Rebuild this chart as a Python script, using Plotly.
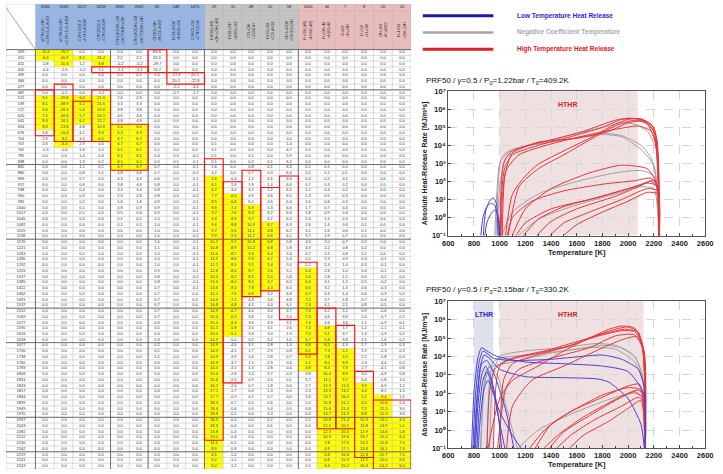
import plotly.graph_objects as go

W, H = 723, 474
FONT = "Liberation Sans, Arial, sans-serif"

# ---------------------------------------------------------------- table data
ROW_LABELS = [409, 410, 411, 420, 439, 466, 477, 487, 521, 539, 572, 620, 641, 656, 676, 701, 707, 761, 785, 838,
              862, 880, 899, 917, 938, 960, 981, 1000, 1017, 1040, 1082, 1119, 1138, 1176, 1221, 1263, 1280, 1292,
              1316, 1337, 1385, 1422, 1462, 1491, 1537, 1552, 1569, 1577, 1590, 1616, 1658, 1677, 1700, 1738, 1760,
              1783, 1808, 1831, 1843, 1857, 1884, 1899, 1949, 1970, 1997, 2043, 2082, 2122, 2130, 2162, 2219, 2241, 2243]
COL_IDS = ["3166", "3169", "3217", "3218", "3961", "3962", "45", "548", "1071",
           "29", "31", "48", "52", "58", "1005", "46", "7", "8", "20", "10"]
COL_GROUP = [0] * 9 + [1] * 5 + [2] * 6
COL_DESC = ["nC7H16+OH<br>=C7H15-2+H2O", "nC7H16+OH<br>=C7H15-3+H2O", "C7H15O2-2<br>=C7H14OOH", "C7H15O2-3<br>=C7H14OOH",
            "C7H14OOH+O2<br>=OC7OOH+OH", "C7H14OOH+O2<br>=OC7OOH+OH", "CH2O+OH<br>=HCO+H2O", "HO2+HO2<br>=H2O2+O2",
            "C7H15+O2<br>=C7H15O2", "H2O2(+M)<br>=OH+OH(+M)", "HO2+OH<br>=H2O+O2", "CO+OH<br>=CO2+H",
            "HCO+O2<br>=CO+HO2", "CH3+HO2<br>=CH3O+OH", "H+O2(+M)<br>=HO2(+M)", "H+OH+M<br>=H2O+M",
            "O+H2<br>=H+OH", "H+O2<br>=O+OH", "OH+H2<br>=H+H2O", "H+HO2<br>=OH+OH"]

V3166 = [-11.6, -6.3, -1.8, -0.4, 0.0, 0.0, 0.0, 0.0, 8.1, 8.1, 6.6, 7.1, 8.4, 8.6, 4.6, 2.9, 2.6, -0.3] + [0.0] * 55
V3169 = [-76.7, -40.9, -11.6, -2.5, 0.0, 0.0, 0.0, -0.1, -29.6, -38.9, -26.3, -16.6, -16.1, -13.8, -10.4, -8.2,
         -6.3, -0.6] + [0.0] * 55
V3217 = [0.0, 6.1, 1.2, -0.2, 0.0, 0.0, 0.0, 0.0, 6.6, 6.2, 5.6, 5.7, 6.2, 4.8, 4.1, 3.2, 2.9, 1.6, 1.4, 1.3, 1.1,
         0.8, 0.7, 0.6, 0.4, 0.3, 0.2, 0.1, 0.1] + [0.0] * 44
V3218 = [0.0, 31.2, 8.8, 1.1, 0.0, 0.0, 0.0, -0.1, 21.6, 21.6, 19.6, 14.1, 12.2, 10.6, 8.3, 6.2, 4.6, 1.0, 0.4, 0.2,
         0.1, 0.1] + [0.0] * 51
V3961 = [0.0, 2.2, -0.2, -1.1, 0.0, 0.0, 0.0, 0.0, 2.6, 3.3, 3.8, 4.6, 4.8, 6.0, 6.3, 6.7, 6.7, 6.1, 6.1, 6.1, 6.7,
         4.8, 4.3, 3.8, 3.3, 2.3, 1.6, 0.8, 0.5, 0.2, 0.1] + [0.0] * 42
V3962 = [0.0, 2.2, -0.2, -1.1, 0.0, 0.0, 0.0, 0.0, 2.6, 3.3, 3.8, 4.6, 4.8, 6.0, 6.3, 6.7, 6.7, 6.1, 6.1, 6.1, 6.7,
         4.8, 4.4, 4.0, 3.4, 2.6, 1.6, 0.9, 0.6, 0.2, 0.1] + [0.0] * 42
V45 = [83.6, 32.6, -49.7, 74.7] + [0.0] * 13 + [0.1, 0.4, 0.5, 0.7, 0.7, 0.6, 0.8, 0.8, 0.8, 0.9, 0.9, 0.9, 1.0, 1.0,
                                              1.0, 1.0, 1.0, 1.1, 1.0, 1.0, 1.0, 0.9, 0.8, 0.8, 0.7, 0.7, 0.7, 0.7,
                                              0.7, 0.7, 0.6, 0.5, 0.4, 0.3, 0.2, 0.1, 0.1] + [0.0] * 19
V548 = [0.0, 0.0, 0.0, 0.0, -27.4, 20.2, -2.2, 0.7] + [0.0] * 11 + [0.1] + [0.0] * 53
V1071 = [0.0, 0.0, 0.0, 0.0, 20.1, -22.8, -4.4, -1.7] + [0.0] * 10 + [-0.1] * 24 + [0.0] * 31
V29 = [0.0] * 16 + [0.1, 0.1] + [0.1, 0.1, 1.6, 4.2, 5.6, 6.1, 6.7, 7.7, 8.5, 8.6, 9.2, 9.4, 9.6, 9.7, 9.9, 10.2,
                                 10.8, 11.6, 11.9, 12.1, 12.8, 13.0, 13.4, 13.6] + \
      [14.1, 14.6, 14.8, 14.9, 15.0, 15.0, 15.1, 15.0, 14.9, 14.9, 14.9, 14.9, 14.9, 15.0, 15.4, 15.6, 16.2, 17.1,
       17.7, 18.0, 18.4, 18.8, 18.9, 18.3, 13.8, 13.0, 11.1, 8.9, 6.1, 6.2, 6.2]
V31 = [0.0] * 22 + [-0.4, -1.6, -3.4] + [-6.3, -6.6, -7.4, -7.6, -8.3, -8.8, -9.0, -9.1, -9.1, -8.9, -8.7, -8.6,
                                        -8.5, -8.4, -8.2, -8.0, -8.0] + \
      [-7.6, -7.2, -6.8, -6.7, -6.3, -6.3, -5.8, -5.1, -5.0, -4.6, -4.1, -3.9, -3.7, -3.1, -2.6, -2.4, -2.0, -1.7,
       -0.9, -0.7, -0.6, -0.5, -0.4, -0.4, -0.4, -0.4, -0.5, -0.8, -1.0, -1.2, -1.2]
V48 = [0.0] * 18 + [0.1, 0.2] + [0.8, 0.7, 1.2, 1.9, 3.1, 4.9, 6.2, 6.9, 8.3, 9.7, 10.9, 11.2, 11.2, 10.8, 10.2, 9.6,
                                 9.3, 9.1, 8.7, 8.5, 8.2, 7.8] + \
      [6.9, 4.8, 4.1, 4.0, 3.6, 3.6, 3.5, 3.4, 3.2, 3.1, 1.7, 1.6, 1.5, 1.3, 1.2, 0.9, 0.7, 0.4, 0.1, 0.1] + [0.0] * 11
V52 = [0.0] * 19 + [0.1, 0.1, 0.3, 0.6] + [1.4, 2.2, 3.6, 4.6, 5.3, 6.2, 6.2, 6.7, 6.8, 6.6, 6.8, 6.8, 6.4, 6.7, 5.4,
                                           5.6, 5.0, 4.7, 4.4] + \
      [4.2, 3.6, 4.0, 3.4, 3.2, 3.3, 3.1, 3.0, 3.2, 2.8, 2.9, 2.8, 2.9, 2.8, 2.7, 2.4, 1.8, 1.3, 0.7, 0.6, 0.4, 0.3,
       0.2, 0.1] + [0.0] * 7
V58 = [0.0] * 16 + [1.4, 4.7, 5.9, 6.1, 6.3, 6.4, 6.6, 6.6, 6.5, 6.5, 6.4, 6.6, 6.6, 6.2, 6.3, 6.2, 6.1, 5.8, 5.8,
                    5.6, 5.3, 5.0, 5.1, 5.8, 6.2, 6.5] + \
      [6.8, 6.8, 6.1, 3.7, 3.4, 3.1, 2.6, 1.9, 1.6, 1.4, 0.8, 0.7, 0.6, 0.4, 0.3, 0.1] + [0.0] * 15
V1005 = [0.0] * 20 + [0.1, 0.2] + [0.4, 0.7, 1.1, 1.3, 1.6, 1.7, 1.8, 2.4, 2.6, 3.1, 3.7, 4.0, 4.3, 4.7, 5.0, 5.2,
                                   5.4, 5.6, 6.4, 6.6] + \
        [6.7, 7.2, 7.4, 7.4, 7.4, 7.4, 7.4, 7.2, 6.7, 6.8, 6.1, 5.4, 5.1, 4.8, 3.8, 3.7, 2.7, 2.3, 1.6, 1.0, 0.8,
         0.4, 0.1] + [0.0] * 7 + [0.1]
V46 = [0.0] * 20 + [0.1, 0.1] + [0.2, 0.3, 0.4, 0.5, 0.6, 0.7, 0.9, 1.1, 1.4, 1.6, 1.9, 2.0, 2.2, 2.2, 2.3, 2.4, 2.6,
                                 2.8, 3.1, 3.2] + \
      [3.3, 3.7, 4.1, 4.2, 4.6, 4.6, 4.8, 5.1, 5.8, 6.5, 7.3, 7.8, 8.0, 8.4, 10.0, 11.1, 12.3, 13.3, 13.7, 15.8,
       15.6, 14.7, 13.8, 12.9, 12.3, 10.9, 7.8, 4.9, 6.8, 6.6, 6.4]
V7 = [0.0] * 21 + [0.1] + [0.1, 0.2, 0.2, 0.3, 0.3, 0.4, 0.4, 0.5, 0.6, 0.6, 0.7, 0.7, 0.8, 0.8, 0.9, 1.0, 1.0, 1.1,
                           1.2, 1.3] + \
     [1.4, 1.8, 2.1, 3.2, 3.6, 3.6, 3.7, 3.7, 3.8, 4.3, 5.1, 5.5, 6.9, 7.9, 8.9, 9.7, 11.6, 13.2, 16.0, 21.2, 21.6,
      21.9, 21.4, 20.5, 20.4, 19.6, 17.6, 17.1, 16.6, 15.9, 15.2]
V8 = [0.0] * 30 + [0.1, 0.1, 0.1, 0.2, 0.2, 0.2, 0.3, 0.3, 0.4, 0.4, 0.5] + \
     [0.6, 0.6, 0.7, 0.8, 0.9, 1.0, 1.1, 1.2, 1.3, 1.5, 1.7, 1.9, 2.1, 2.4, 2.7, 3.0, 3.4, 3.9, 4.4, 5.1, 6.0, 7.2,
      8.8, 10.3, 11.8, 12.9, 13.7, 14.2, 13.6, 12.8, 11.9, 10.4]
V20 = [0.0] * 36 + [-0.1, -0.1, -0.1, -0.2, -0.2, -0.3, -0.3, -0.4, -0.5] + \
      [-0.6, -0.7, -0.9, -1.1, -1.3, -1.6, -1.9, -2.3, -2.8, -3.4, -4.1, -4.9, -5.8, -6.9, -8.1, -9.4, -10.6, -11.5,
       -12.3, -13.1, -13.9, -14.6, -15.2, -15.8, -16.1, -15.7, -15.0, -14.2]
V10 = [0.0] * 46 + [0.1, 0.1, 0.1, 0.2] + \
      [0.2, 0.3, 0.3, 0.4, 0.5, 0.6, 0.8, 1.0, 1.2, 1.5, 1.9, 2.4, 3.0, 3.6, 4.3, 5.1, 5.8, 6.4, 7.0, 7.3, 7.1, 6.6,
       6.0]

COLUMNS = [V3166, V3169, V3217, V3218, V3961, V3962, V45, V548, V1071, V29, V31, V48, V52, V58, V1005, V46, V7, V8,
           V20, V10]

# highlighted cells (column, first row, last row)
YELLOW = [(0, 0, 1), (1, 0, 2), (2, 1, 1), (3, 1, 2), (0, 8, 13), (1, 8, 16), (2, 8, 12), (3, 8, 15),
          (4, 13, 20), (5, 13, 20), (9, 22, 72), (10, 25, 49), (11, 27, 42), (12, 30, 41), (14, 38, 55),
          (15, 48, 72), (16, 52, 72), (17, 58, 72), (18, 60, 72), (19, 64, 72)]
# red frames (first column, last column, first row, last row)
BOXES = [(6, 6, 0, 3), (3, 5, 3, 3), (7, 8, 4, 5), (0, 0, 7, 14), (1, 1, 6, 15), (2, 2, 9, 15), (3, 3, 7, 15),
         (4, 5, 13, 20), (9, 9, 19, 67), (10, 10, 23, 57), (11, 11, 21, 42), (12, 12, 24, 41), (13, 13, 22, 46),
         (14, 14, 37, 52), (15, 15, 45, 65), (16, 16, 48, 65), (17, 17, 56, 70), (18, 19, 61, 72)]
DARK_ROWS = [6.5, 19.5, 32.5, 44.5, 50.5, 63.5, 69.5]
DARK_COLS = [0, 4, 6, 9, 14]

# ---------------------------------------------------------------- chart data
T_TICKS = [600, 800, 1000, 1200, 1400, 1600, 1800, 2000, 2200, 2400, 2600]
Y_EXP = [-1, 0, 1, 2, 3, 4, 5, 6, 7]
Y_TICK_TEXT = ["10⁻¹", "10⁰", "10¹", "10²", "10³", "10⁴", "10⁵", "10⁶", "10⁷"]

C1_HTHR = [
    ([1000, 1010, 1030, 1080, 1200, 1400, 1650, 1900, 2000, 2100, 2180, 2225, 2238, 2242],
     [0.05, 30, 1e3, 4e3, 9e3, 2e4, 6e4, 2.5e5, 3.2e5, 2.8e5, 1.5e5, 2e4, 100, 0.05]),
    ([1005, 1015, 1040, 1100, 1300, 1550, 1800, 1950, 2050, 2150, 2210, 2235, 2240],
     [0.05, 20, 600, 3e3, 1e4, 3e4, 1e5, 2.8e5, 3e5, 1.8e5, 4e4, 200, 0.05]),
    ([1010, 1020, 1050, 1150, 1400, 1700, 1950, 2080, 2180, 2230, 2240],
     [0.05, 10, 400, 3e3, 1.2e4, 4e4, 9e4, 1.2e5, 6e4, 3e3, 0.05]),
    ([1040, 1100, 1200, 1300, 1500, 1700, 1900, 2000, 2100, 2200, 2235, 2242],
     [0.05, 20, 200, 900, 5e3, 2.5e4, 1.5e5, 2.8e5, 3e5, 1e5, 2e3, 0.05]),
    ([1060, 1150, 1300, 1500, 1700, 1900, 2050, 2150, 2220, 2240],
     [0.05, 50, 500, 3e3, 2e4, 1.2e5, 2.5e5, 1.5e5, 1e4, 0.05]),
    ([1020, 1040, 1100, 1300, 1600, 1850, 2000, 2120, 2200, 2238],
     [0.05, 200, 4e3, 1.5e4, 2.5e4, 6e4, 1.8e5, 2.2e5, 6e4, 0.05]),
    ([1100, 1200, 1400, 1700, 2000, 2150, 2220, 2242], [0.05, 0.5, 3, 10, 40, 80, 60, 0.05]),
    ([1150, 1300, 1500, 1800, 2050, 2180, 2230, 2242], [0.05, 0.8, 4, 15, 50, 100, 40, 0.05]),
    ([1250, 1400, 1600, 1900, 2100, 2200, 2235, 2242], [0.05, 0.6, 3, 15, 60, 120, 30, 0.05]),
    ([1350, 1500, 1700, 1950, 2150, 2230, 2242], [0.05, 0.5, 2, 10, 40, 30, 0.05]),
    ([1050, 1100, 1250, 1500, 1800, 2050, 2180, 2235, 2242], [0.05, 1, 8, 30, 70, 110, 150, 40, 0.05]),
    ([1450, 1600, 1800, 2000, 2150, 2230, 2242], [0.05, 0.4, 2, 8, 25, 20, 0.05]),
    ([1080, 1200, 1400, 1700, 1950, 2150, 2220, 2240], [0.05, 3, 40, 300, 800, 500, 80, 0.05]),
]
C1_NTC = [
    ([960, 975, 1000, 1050, 1200, 1500, 1750, 1850, 1950, 2100, 2180, 2225, 2240],
     [0.05, 10, 1e3, 4e3, 9e3, 2e4, 4e4, 4.5e4, 3.5e4, 1e4, 2e3, 50, 0.05]),
    ([970, 985, 1010, 1100, 1300, 1600, 1800, 1950, 2100, 2200, 2235, 2242],
     [0.05, 20, 1.5e3, 6e3, 1.2e4, 2.5e4, 4e4, 3e4, 6e3, 800, 10, 0.05]),
    ([980, 1000, 1050, 1200, 1500, 1800, 1950, 2050, 2150, 2220, 2240],
     [0.05, 50, 2e3, 8e3, 3e4, 1e5, 1.8e5, 1.5e5, 6e4, 5e3, 0.05]),
    ([1100, 1300, 1600, 1900, 2100, 2200, 2240], [0.05, 0.8, 5, 20, 50, 40, 0.05]),
    ([1000, 1100, 1300, 1600, 1900, 2100, 2200, 2240], [0.05, 2, 20, 100, 300, 400, 200, 0.05]),
]
C1_LTHR = [
    ([850, 870, 900, 930, 960, 985, 1000], [0.05, 1, 4, 6, 5, 1, 0.05]),
    ([870, 890, 920, 950, 975, 990], [0.05, 2, 8, 12, 6, 0.05]),
    ([880, 900, 930, 960, 980, 995, 1005], [0.05, 0.5, 1.5, 2.5, 2, 0.6, 0.05]),
]

C2_HTHR = [
    ([900, 920, 960, 1050, 1300, 1600, 1850, 1950, 2050, 2110, 2128, 2134],
     [0.05, 100, 2e3, 6e3, 1.5e4, 5e4, 3e5, 4.5e5, 3.5e5, 5e4, 500, 0.05]),
    ([950, 970, 1000, 1100, 1350, 1650, 1900, 2000, 2080, 2120, 2133],
     [0.05, 200, 3e3, 8e3, 2e4, 8e4, 3e5, 4e5, 2e5, 1e4, 0.05]),
    ([1000, 1030, 1100, 1250, 1500, 1750, 1950, 2050, 2110, 2133],
     [0.05, 500, 4e3, 1e4, 3e4, 1.2e5, 2.5e5, 2.2e5, 5e4, 0.05]),
    ([900, 1000, 1100, 1300, 1500, 1700, 1850, 1980, 2080, 2125, 2134],
     [0.05, 50, 500, 3e3, 2e4, 1e5, 2e5, 3e5, 2e5, 5e3, 0.05]),
    ([980, 1050, 1150, 1400, 1700, 1900, 2050, 2120, 2134], [0.05, 200, 2e3, 8e3, 3e4, 1.3e5, 1.5e5, 2e4, 0.05]),
    ([1050, 1100, 1250, 1500, 1750, 1950, 2070, 2125, 2134], [0.05, 20, 500, 3e3, 2e4, 8e4, 1.2e5, 2e4, 0.05]),
    ([1300, 1450, 1650, 1850, 2000, 2080, 2120, 2134], [0.05, 0.5, 5, 30, 100, 150, 80, 0.05]),
    ([1350, 1500, 1700, 1900, 2050, 2110, 2134], [0.05, 0.8, 6, 40, 120, 60, 0.05]),
    ([1400, 1550, 1750, 1950, 2080, 2125, 2134], [0.05, 0.5, 4, 20, 60, 30, 0.05]),
    ([1250, 1400, 1600, 1800, 2000, 2100, 2130], [0.05, 2, 15, 80, 200, 150, 0.05]),
    ([1500, 1650, 1850, 2000, 2100, 2130], [0.05, 0.5, 3, 15, 40, 0.05]),
    ([1200, 1350, 1550, 1800, 2000, 2090, 2130], [0.05, 1, 10, 60, 250, 300, 0.05]),
]
C2_NTC = [
    ([900, 920, 950, 1000, 1200, 1500, 1800, 1950, 2050, 2120, 2134],
     [0.05, 300, 5e3, 8e3, 1.2e4, 2e4, 4e4, 3e4, 1e4, 500, 0.05]),
    ([920, 950, 1000, 1200, 1500, 1750, 1900, 2050, 2110, 2134], [0.05, 1e3, 1e4, 2e4, 3e4, 5e4, 4e4, 1e4, 1e3, 0.05]),
    ([850, 870, 900, 950, 1100, 1400, 1700, 1900, 2050, 2120, 2134],
     [0.05, 50, 2e3, 3e3, 5e3, 1.5e4, 3e4, 2.5e4, 5e3, 300, 0.05]),
    ([1100, 1300, 1600, 1900, 2050, 2120, 2134], [0.05, 1, 10, 60, 100, 50, 0.05]),
    ([850, 880, 920, 980, 1050, 1150], [0.05, 200, 3e3, 1e3, 20, 0.05]),
]
C2_LTHR = [
    ([790, 810, 840, 870, 900, 950, 1100, 1400, 1700, 1800, 1950, 2080, 2125, 2132],
     [0.05, 50, 5e3, 2e4, 1.5e4, 8e3, 6e3, 7e3, 1.1e4, 1.2e4, 7e3, 2e3, 200, 0.05]),
    ([800, 820, 850, 880, 920, 1000, 1200, 1500, 1760, 1850, 2000, 2100, 2130],
     [0.05, 30, 3e3, 1.2e4, 8e3, 2e3, 800, 700, 600, 400, 50, 2, 0.05]),
    ([810, 830, 860, 890, 930, 980, 1020], [0.05, 20, 1e3, 3e3, 800, 20, 0.05]),
    ([820, 840, 870, 900, 940, 990, 1050], [0.05, 10, 500, 1.5e3, 300, 5, 0.05]),
    ([800, 830, 860, 900, 960, 1050, 1120], [0.05, 100, 4e3, 6e3, 1e3, 10, 0.05]),
    ([830, 850, 880, 910, 950, 1000, 1100, 1200], [0.05, 5, 200, 500, 100, 10, 0.5, 0.05]),
    ([780, 800, 830, 860, 900, 980, 1200, 1500, 1800, 2000, 2120, 2132],
     [0.05, 100, 8e3, 3e4, 2e4, 1e4, 5e3, 4e3, 3e3, 1.5e3, 100, 0.05]),
]

C1_REGION = {"HTHR": (1000, 2075)}
C2_REGION = {"LTHR": (800, 950), "HTHR": (1000, 2120)}
TITLE1 = "PRF50 / <i>γ</i>=0.5 / P<sub>0</sub>=1.22bar / T<sub>0</sub>=409.2K"
TITLE2 = "PRF50 / <i>γ</i>=0.5 / P<sub>0</sub>=2.15bar / T<sub>0</sub>=330.2K"
LEGEND = [("Low Temperature Heat Release", "#1c1ca8", "#2a2ad0"),
          ("Negative Coefficient Temperature", "#a6a6a6", "#aaaaaa"),
          ("High Temperature Heat Release", "#e02025", "#e02025")]

RED, GRAY, BLUE = "#e8353b", "#a0a0a0", "#4d40d8"


def px(x):
    return x / W


def py(y):
    return 1 - y / H


fig = go.Figure()

# ---------------------------------------------------------------- table
NR, NC = len(ROW_LABELS), len(COL_IDS)
LABEL_LEFT = -1.567
HEAD_TOP = -8.44
ID_BOTTOM = -7.24

z_body, t_body = [], []
for r in range(NR):
    zr, tr = [0], [str(ROW_LABELS[r])]
    for c in range(NC):
        zr.append(0)
        v = COLUMNS[c][r]
        tr.append(f"{v:.1f}")
    z_body.append(zr)
    t_body.append(tr)
for c, r0, r1 in YELLOW:
    for r in range(r0, r1 + 1):
        z_body[r][c + 1] = 1

xedges = [LABEL_LEFT] + list(range(NC + 1))
yedges = [r - 0.5 for r in range(NR + 1)]
fig.add_trace(go.Heatmap(z=z_body, x=xedges, y=yedges, text=t_body, texttemplate="%{text}",
                         textfont=dict(size=4, color="#333333", family=FONT),
                         colorscale=[[0, "#ffffff"], [1, "#ffff00"]], zmin=0, zmax=1, showscale=False,
                         hoverinfo="skip", xaxis="x3", yaxis="y3"))
HEAD_SCALE = [[0, "#97b5e4"], [0.5, "#c3c3c3"], [1, "#e8bcbc"]]
fig.add_trace(go.Heatmap(z=[COL_GROUP], x=list(range(NC + 1)), y=[HEAD_TOP, ID_BOTTOM],
                         text=[COL_IDS], texttemplate="%{text}",
                         textfont=dict(size=4, color="#222222", family=FONT),
                         colorscale=HEAD_SCALE, zmin=0, zmax=2,
                         showscale=False, hoverinfo="skip", xaxis="x3", yaxis="y3"))
fig.add_trace(go.Heatmap(z=[COL_GROUP], x=list(range(NC + 1)), y=[ID_BOTTOM, -0.5],
                         colorscale=HEAD_SCALE, zmin=0, zmax=2,
                         showscale=False, hoverinfo="skip", xaxis="x3", yaxis="y3"))

gx, gy = [], []
for r in range(NR + 1):
    gx += [LABEL_LEFT, NC, None]
    gy += [r - 0.5, r - 0.5, None]
for yy in (HEAD_TOP, ID_BOTTOM):
    gx += [0, NC, None]
    gy += [yy, yy, None]
for c in range(NC + 1):
    gx += [c, c, None]
    gy += [HEAD_TOP, NR - 0.5, None]
gx += [LABEL_LEFT, LABEL_LEFT, None, LABEL_LEFT, 0, None]
gy += [HEAD_TOP, NR - 0.5, None, HEAD_TOP, HEAD_TOP, None]
fig.add_trace(go.Scatter(x=gx, y=gy, mode="lines", line=dict(color="#b4b4b4", width=0.5), hoverinfo="skip",
                         showlegend=False, xaxis="x3", yaxis="y3"))
dx, dy = [], []
for yy in DARK_ROWS:
    dx += [LABEL_LEFT, NC, None]
    dy += [yy, yy, None]
for xx in DARK_COLS:
    dx += [xx, xx, None]
    dy += [-0.5, NR - 0.5, None]
dx += [LABEL_LEFT, NC, None]
dy += [-0.5, -0.5, None]
fig.add_trace(go.Scatter(x=dx, y=dy, mode="lines", line=dict(color="#555555", width=0.8), hoverinfo="skip",
                         showlegend=False, xaxis="x3", yaxis="y3"))

shapes = []
for c0, c1, r0, r1 in BOXES:
    shapes.append(dict(type="rect", xref="x3", yref="y3", x0=c0, x1=c1 + 1, y0=r0 - 0.5, y1=r1 + 0.5,
                       line=dict(color="#ff1010", width=1.1), layer="above"))
shapes.append(dict(type="line", xref="x3", yref="y3", x0=LABEL_LEFT, y0=ID_BOTTOM - 0.6, x1=0, y1=-0.5,
                   line=dict(color="#666666", width=0.6)))

annotations = []
for c in range(NC):
    annotations.append(dict(xref="x3", yref="y3", x=c + 0.5, y=(ID_BOTTOM - 0.5) / 2, text=COL_DESC[c],
                            textangle=-90, showarrow=False, font=dict(size=4, color="#222222", family=FONT)))

# ---------------------------------------------------------------- charts
for curves, color, ax in [(C1_NTC, GRAY, 1), (C1_HTHR, RED, 1), (C1_LTHR, BLUE, 1),
                          (C2_NTC, GRAY, 2), (C2_HTHR, RED, 2), (C2_LTHR, BLUE, 2)]:
    for tx, hy in curves:
        fig.add_trace(go.Scatter(x=tx, y=hy, mode="lines", showlegend=False, hoverinfo="skip",
                                 line=dict(color=color, width=1, shape="spline", smoothing=0.6),
                                 xaxis="x" if ax == 1 else "x2", yaxis="y" if ax == 1 else "y2"))

for xr, yr, regions in [("x", "y", C1_REGION), ("x2", "y2", C2_REGION)]:
    for name, (t0, t1) in regions.items():
        col = "#efe1e1" if name == "HTHR" else "#dfe1ec"
        shapes.append(dict(type="rect", xref=xr, yref=yr + " domain", x0=t0, x1=t1, y0=0, y1=1,
                           fillcolor=col, line=dict(width=0), layer="below"))
        tcol = "#e02025" if name == "HTHR" else "#2a2ad0"
        tx = (t0 + t1) / 2 if name == "LTHR" else t0 + 530
        annotations.append(dict(xref=xr, yref=yr + " domain", x=tx, y=0.95, text=f"<b>{name}</b>",
                                showarrow=False, font=dict(size=7, color=tcol, family=FONT)))

annotations.append(dict(xref="paper", yref="paper", x=px(426), y=py(79), xanchor="left", yanchor="middle",
                        text=TITLE1, showarrow=False, font=dict(size=8, color="#111111", family=FONT)))
annotations.append(dict(xref="paper", yref="paper", x=px(426), y=py(292), xanchor="left", yanchor="middle",
                        text=TITLE2, showarrow=False, font=dict(size=8, color="#111111", family=FONT)))

for i, (label, lcol, tcol) in enumerate(LEGEND):
    yl = 12 + 17 * i
    shapes.append(dict(type="line", xref="paper", yref="paper", x0=px(425), x1=px(497), y0=py(yl), y1=py(yl),
                       line=dict(color=lcol, width=3 if i != 1 else 2.5)))
    annotations.append(dict(xref="paper", yref="paper", x=px(519), y=py(yl), xanchor="left", yanchor="middle",
                            text=f"<b>{label}</b>", showarrow=False, font=dict(size=6.5, color=tcol, family=FONT)))

tick_font = dict(size=7.5, color="#222222", family=FONT, weight="bold")
xcommon = dict(range=[600, 2600], tickvals=T_TICKS, ticks="inside", ticklen=3, showline=True, mirror=True,
               linecolor="#555555", linewidth=1, showgrid=True, gridcolor="#d6d6d6", griddash="dash",
               gridwidth=0.6, zeroline=False, tickfont=tick_font,
               minor=dict(dtick=100, ticks="inside", ticklen=2, showgrid=False),
               title=dict(text="<b>Temperature [K]</b>", font=dict(size=7.5, color="#222222", family=FONT),
                          standoff=2))
ycommon = dict(type="log", range=[-1, 7], tickvals=[10.0 ** e for e in Y_EXP],
               ticktext=Y_TICK_TEXT, ticks="inside", ticklen=3, showline=True,
               mirror=True, linecolor="#555555", linewidth=1, showgrid=True, gridcolor="#d6d6d6",
               griddash="dash", gridwidth=0.6, zeroline=False, tickfont=tick_font,
               title=dict(text="<b>Absolute Heat-Release Rate [MJ/m³s]</b>",
                          font=dict(size=7, color="#222222", family=FONT), standoff=3))

fig.update_layout(
    width=W, height=H, margin=dict(l=0, r=0, t=0, b=0), paper_bgcolor="white", plot_bgcolor="white",
    font=dict(family=FONT), showlegend=False,
    xaxis=dict(xcommon, domain=[px(451), px(713)], anchor="y"),
    yaxis=dict(ycommon, domain=[py(236), py(89)], anchor="x"),
    xaxis2=dict(xcommon, domain=[px(451), px(713)], anchor="y2"),
    yaxis2=dict(ycommon, domain=[py(453), py(303)], anchor="x2"),
    xaxis3=dict(domain=[0, px(413)], range=[LABEL_LEFT, NC], visible=False, anchor="y3", fixedrange=True),
    yaxis3=dict(domain=[0, 1], range=[NR - 0.5, HEAD_TOP], visible=False, anchor="x3", fixedrange=True),
    shapes=shapes, annotations=annotations,
)

fig.write_html("out.html")
